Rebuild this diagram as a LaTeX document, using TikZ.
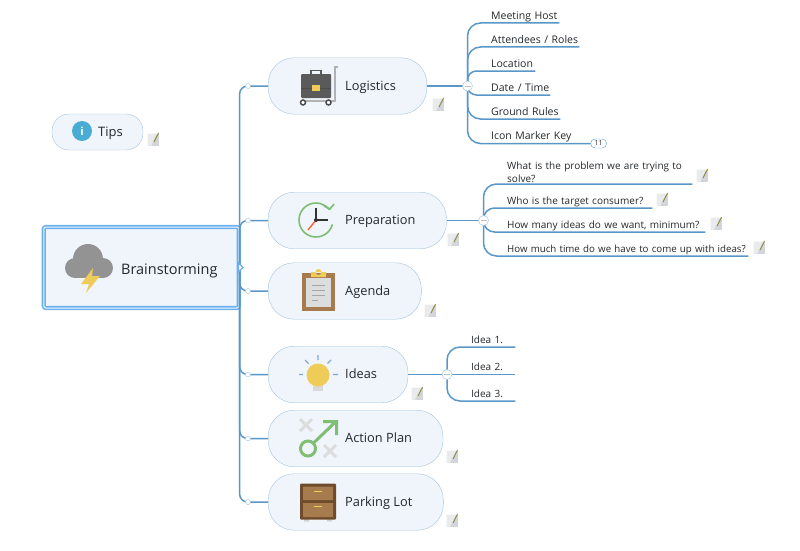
\documentclass[tikz,border=0pt]{standalone}
\usepackage{fontspec}
\setmainfont{Open Sans}
\usepackage{tikz}
\usetikzlibrary{arrows.meta,positioning,calc,shapes.misc}
\definecolor{BranchBlue}{HTML}{5A97C9}
\definecolor{TopicEdge}{HTML}{A3C4DE}
\definecolor{TopicFill}{HTML}{EFF5FB}
\definecolor{RootEdge}{HTML}{6CB1EF}
\definecolor{InkColor}{HTML}{24282C}
\definecolor{IconGreen}{HTML}{7FBE74}
\definecolor{IconYellow}{HTML}{EFCB58}
\definecolor{IconGrey}{HTML}{5A5A5A}
\definecolor{PaleGrey}{HTML}{DCDDDE}
\definecolor{NoteGrey}{HTML}{D2D5D9}
\definecolor{WoodBrown}{HTML}{A67C4E}
\definecolor{DarkBrown}{HTML}{704B2B}
\tikzset{
  topic/.style={draw=TopicEdge,fill=TopicFill,rounded corners=26pt,anchor=west,inner sep=0pt,
    minimum height=56.5pt,text height=9pt,text depth=1pt,text=InkColor,font=\fontsize{12.8}{15}\selectfont,
    execute at begin node=\hspace*{77pt},execute at end node=\hspace*{31pt}},
  leaf/.style={anchor=south west,inner xsep=0pt,inner ysep=1.5pt,align=left,text depth=2pt,
    text=InkColor,font=\fontsize{10.5}{13}\selectfont},
  asks/.style={leaf,font=\fontsize{10}{13}\selectfont},
  branch/.style={BranchBlue,line width=1.5pt,rounded corners=#1},
  branch/.default=13pt,
  dot/.style={circle,draw=BranchBlue!60,fill=white,inner sep=0pt,minimum size=5pt},
  fold/.style={circle,draw=BranchBlue!60,fill=white,inner sep=0pt,minimum size=10pt,
    path picture={\draw[gray!50] ($(path picture bounding box.center)+(-3,0)$) -- ++(6,0);}},
  notemark/.pic={
    \fill[NoteGrey] (-5.5,-6.5) rectangle (5.5,6);
    \fill[NoteGrey!50] (-5.5,-6.5) -- (4,-6.5) -- (-2,6) -- (-5.5,6) -- cycle;
    \draw[olive!60!gray,line width=0.9pt] (5.5,-7) -- (1,2);
  }
}
\begin{document}
\begin{tikzpicture}[x=1pt,y=-1pt]
  \useasboundingbox (0,0) rectangle (800,551);
  % main topics
  \node[draw=RootEdge,double=TopicFill,double distance=1pt,line width=1.6pt,fill=TopicFill,rounded corners=2pt,
    anchor=west,inner sep=0pt,minimum width=195pt,minimum height=81pt,text=InkColor,text height=13.5pt,text depth=0pt,
    font=\fontsize{14.5}{17}\selectfont,align=left] (root) at (43,267.5) {\hspace*{76pt}Brainstorming\hspace*{20pt}};
  \node[topic] (logistics) at (268,86) {Logistics};
  \node[topic] (prep) at (268,220.5) {Preparation};
  \node[topic] (agenda) at (268,291) {Agenda};
  \node[topic] (ideas) at (268,374.5) {Ideas};
  \node[topic] (action) at (268,438.5) {Action Plan};
  \node[topic] (parking) at (268,502) {Parking Lot};
  \node[draw=TopicEdge,fill=TopicFill,rounded corners=17pt,inner sep=0pt,minimum width=91pt,minimum height=36pt,
    text height=9pt,text depth=1pt,text=InkColor,font=\fontsize{13}{15}\selectfont] (tips) at (97.5,132) {\hspace*{26pt}Tips};

  % leaves
  \node[leaf,text width=68pt] (host) at (491,23) {Meeting Host};
  \node[leaf,text width=88pt] (roles) at (491,47) {Attendees / Roles};
  \node[leaf,text width=44pt] (place) at (491,71) {Location};
  \node[leaf,text width=59pt] (date) at (491,95) {Date / Time};
  \node[leaf,text width=69pt] (rules) at (491,119) {Ground Rules};
  \node[leaf,text width=99pt] (key) at (491,143.5) {Icon Marker Key};
  \node[asks,text width=185pt,text depth={}] (problem) at (507,184) {What is the problem we are trying to\\solve?};
  \node[asks,text width=145pt] (consumer) at (507,208) {Who is the target consumer?};
  \node[asks,text width=198pt] (howmany) at (507,232) {How many ideas do we want, minimum?};
  \node[asks,text width=241pt,font=\fontsize{9.7}{13}\selectfont] (howlong) at (507,256) {How much time do we have to come up with ideas?};
  \node[asks,text width=44pt] (ideaone) at (471,347) {Idea 1.};
  \node[asks,text width=44pt] (ideatwo) at (471,374.5) {Idea 2.};
  \node[asks,text width=44pt] (ideathree) at (471,401) {Idea 3.};
  \node[draw=BranchBlue,fill=white,rounded corners=4.5pt,inner xsep=0pt,inner ysep=0pt,minimum width=16pt,minimum height=9pt,
    text=InkColor,font=\fontsize{7}{8}\selectfont,anchor=west] (keycount) at (key.south east) {11};

  \coordinate (lgfold) at (467.5,86);
  \coordinate (prfold) at (483.5,220.5);
  \coordinate (idfold) at (447,374.5);

  % connectors
  \draw[branch=8pt] (root.east) |- (logistics.west);
  \draw[branch=8pt] (root.east) |- (prep.west);
  \draw[branch=8pt] (root.east) |- (agenda.west);
  \draw[branch=8pt] (root.east) |- (ideas.west);
  \draw[branch=8pt] (root.east) |- (action.west);
  \draw[branch=8pt] (root.east) |- (parking.west);
  \draw[branch] (logistics.east) -- (lgfold);
  \draw[branch] (prep.east) -- (prfold);
  \draw[branch] (ideas.east) -- (idfold);
  \draw[branch] (lgfold) |- (host.south east);
  \draw[branch] (lgfold) |- (roles.south east);
  \draw[branch=9pt] (lgfold) |- (place.south east);
  \draw[branch=9pt] (lgfold) |- (date.south east);
  \draw[branch] (lgfold) |- (rules.south east);
  \draw[branch] (lgfold) |- (key.south east);
  \draw[branch] (prfold) |- (problem.south east);
  \draw[branch=11pt] (prfold) |- (consumer.south east);
  \draw[branch=11pt] (prfold) |- (howmany.south east);
  \draw[branch] (prfold) |- (howlong.south east);
  \draw[branch] (idfold) |- (ideaone.south east);
  \draw[branch] (idfold) -- (ideatwo.south east);
  \draw[branch] (idfold) |- (ideathree.south east);

  \node[dot] (lgdot) at (248,86) {};
  \node[dot] (prdot) at (248,220.5) {};
  \node[dot] (agdot) at (248,291) {};
  \node[dot] (iddot) at (248,374.5) {};
  \node[dot] (acdot) at (248,438.5) {};
  \node[dot] (padot) at (248,502) {};
  \node[fold] (lgknob) at (lgfold) {};
  \node[fold] (prknob) at (prfold) {};
  \node[fold] (idknob) at (idfold) {};
  \draw[RootEdge,fill=white,line width=1.3pt] (238.5,263) -- (243,267.5) -- (238.5,272) -- cycle;

  % notes
  \pic at (438,105) {notemark};
  \pic at (453,240) {notemark};
  \pic at (430,311) {notemark};
  \pic at (417,394) {notemark};
  \pic at (452,457) {notemark};
  \pic at (452,521) {notemark};
  \pic at (153,140) {notemark};
  \pic at (702,176) {notemark};
  \pic at (662,200) {notemark};
  \pic at (716,224) {notemark};
  \pic at (759,248) {notemark};

  % cloud
  \fill[gray!85] (88,259) circle[radius=15] (75,268) circle[radius=10] (103,268) circle[radius=10];
  \fill[gray!85] (75,262) rectangle (103,278);
  \fill[IconYellow] (93,268) -- (81,284) -- (89,284) -- (86,293) -- (100,276) -- (92,276) -- cycle;

  % briefcase
  \draw[gray!60,line width=1.5pt] (338,67) -- (335,67) -- (335,101) -- (303,101);
  \draw[IconGrey,line width=1.3pt] (311,74) -- (311,70.5) -- (321,70.5) -- (321,74);
  \fill[IconGrey,rounded corners=1pt] (301,74) rectangle (331,98);
  \draw[black!70,line width=1pt] (301,88) -- (331,88);
  \fill[IconYellow] (312,85) rectangle (320,91);
  \draw[black!70,fill=white,line width=1.5pt] (303,102.5) circle[radius=2.5] (328.5,102.5) circle[radius=2.5];

  % clock
  \draw[IconGreen,line width=1.6pt] (316,220) ++(15:17) arc[start angle=15,end angle=322,radius=17];
  \draw[IconGreen,line width=1.6pt] (324,206) -- (330,209) -- (334,204);
  \draw[red!60!orange!80,line width=1.4pt] (316,220) -- (308,230);
  \draw[black!80,line width=1.4pt] (316,208) -- (316,220) -- (328,220);
  \fill[black!80] (316,220) circle[radius=2];

  % clipboard
  \fill[WoodBrown] (302,273) rectangle (335,311);
  \fill[PaleGrey] (306,278) rectangle (331,307);
  \fill[IconYellow] (311,272) rectangle (326,277) (318.5,272) circle[radius=3];
  \draw[gray!70,line width=0.8pt] (312,285) -- (325,285) (312,290) -- (325,290) (312,295) -- (325,295) (312,300) -- (318,300);

  % bulb
  \fill[gray!30] (313,384) rectangle (323,391);
  \fill[IconYellow] (318,375) circle[radius=11.5];
  \draw[cyan!50!blue!50,line width=1.2pt] (318,355) -- (318,360) (305,360) -- (308.5,363.5) (331,360) -- (327.5,363.5)
    (299,374.5) -- (303,374.5) (333,374.5) -- (338,374.5);

  % action plan
  \draw[PaleGrey,line width=3pt] (300,419) -- (312,431) (300,431) -- (312,419) (324,445) -- (336,457) (324,457) -- (336,445);
  \draw[IconGreen,line width=3pt] (308,448.5) circle[radius=7.5] (313.5,443) -- (336,421.5) (323,421.5) -- (336.5,421.5) -- (336.5,435);

  % cabinet
  \fill[gray!35] (304,519) rectangle (309,521.5) (327,519) rectangle (332,521.5);
  \fill[DarkBrown,rounded corners=1pt] (300,483.5) rectangle (336,519.5);
  \fill[WoodBrown] (303,486.5) rectangle (333,500) (303,503) rectangle (333,517);
  \draw[IconYellow,line width=1pt] (314,491) -- (322,491) (314,506.5) -- (322,506.5);

  % info
  \fill[BranchBlue!80!cyan] (82,131) circle[radius=10];
  \node[text=white,font=\fontsize{11}{12}\selectfont\bfseries,inner sep=0pt] (infomark) at (82,131) {i};
\end{tikzpicture}
\end{document}
